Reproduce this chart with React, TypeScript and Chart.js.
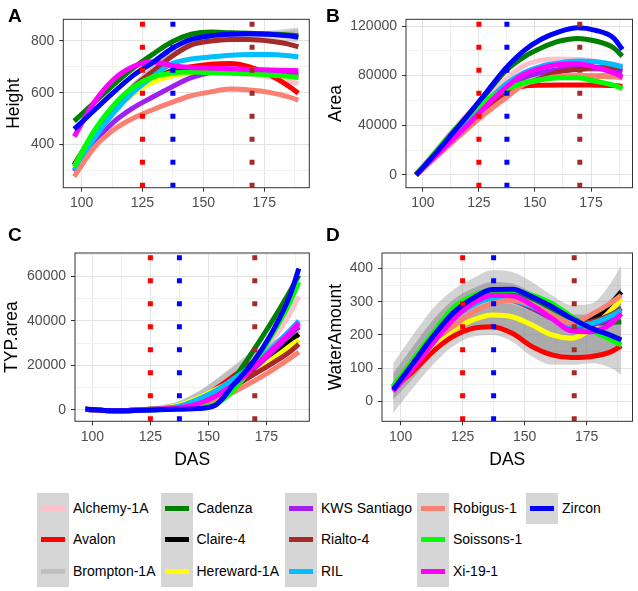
import React, { useEffect, useRef } from 'react';
import { Chart, registerables } from 'chart.js';

Chart.register(...registerables);

// ---------- data ----------
const DAS = [97, 105, 113, 121, 129, 137, 145, 153, 161, 169, 177, 185, 189];

const VARIETIES = [
  'Alchemy-1A', 'Avalon', 'Brompton-1A', 'Cadenza', 'Claire-4', 'Hereward-1A', 'KWS Santiago',
  'Rialto-4', 'RIL', 'Robigus-1', 'Soissons-1', 'Xi-19-1', 'Zircon',
];
const COLORS = [
  '#FFC0CB', '#FF0000', '#BEBEBE', '#008000', '#000000', '#FFFF00', '#A020F0',
  '#A52A2A', '#00BFFF', '#FA8072', '#00FF00', '#FF00FF', '#0000FF',
];

// Panel A: Height (one row per variety, same order as VARIETIES)
const HEIGHT = [
  [310, 430, 530, 600, 645, 670, 680, 685, 680, 670, 660, 645, 635],
  [320, 440, 535, 605, 650, 685, 700, 710, 713, 700, 670, 625, 598],
  [320, 440, 545, 625, 690, 745, 785, 805, 815, 820, 825, 832, 838],
  [490, 560, 629, 693, 747, 796, 826, 835, 832, 830, 827, 823, 820],
  [320, 440, 540, 610, 655, 678, 685, 685, 682, 678, 672, 665, 660],
  [305, 430, 525, 595, 640, 665, 675, 678, 678, 675, 670, 663, 658],
  [295, 405, 485, 540, 582, 622, 658, 678, 685, 683, 680, 675, 670],
  [320, 440, 540, 620, 680, 740, 785, 800, 806, 806, 800, 788, 777],
  [300, 420, 520, 600, 660, 712, 730, 738, 745, 748, 748, 743, 738],
  [275, 385, 455, 500, 533, 562, 588, 603, 614, 610, 601, 584, 571],
  [314, 450, 550, 620, 660, 676, 680, 677, 675, 673, 669, 663, 659],
  [430, 560, 650, 700, 720, 705, 697, 695, 693, 690, 688, 686, 685],
  [459, 530, 600, 665, 715, 770, 806, 820, 826, 828, 826, 820, 815],
];

// Panel B: Area
const AREA = [
  [1000, 17500, 35000, 51000, 65000, 77000, 88000, 92500, 93500, 93000, 91700, 89000, 87700],
  [0, 14000, 28000, 42000, 56000, 67400, 71500, 72300, 72500, 72500, 72300, 72000, 71500],
  [0, 15000, 30000, 45000, 59000, 70000, 77000, 81000, 84000, 85000, 85000, 84000, 83000],
  [0, 16000, 33000, 50000, 67000, 84000, 95000, 102500, 107900, 110000, 107900, 102500, 95700],
  [0, 14500, 29000, 43000, 56000, 67000, 73000, 77000, 79000, 80000, 80000, 79800, 79600],
  [500, 15000, 29500, 43000, 56000, 67000, 73500, 77500, 79500, 80000, 80000, 79500, 79000],
  [0, 14000, 28000, 42000, 56000, 69000, 78200, 82500, 85000, 86300, 86000, 85000, 83600],
  [0, 14000, 28000, 42000, 55000, 66000, 72800, 78200, 83100, 85000, 86300, 86800, 86300],
  [0, 15000, 30000, 45000, 60000, 73000, 82300, 87700, 90300, 91700, 91200, 89000, 86800],
  [0, 13000, 26000, 39000, 51000, 62000, 72800, 76900, 79600, 80000, 79600, 79000, 78200],
  [0, 17000, 34000, 49000, 61000, 69000, 74200, 76900, 78200, 78200, 75500, 72300, 69600],
  [0, 14000, 28000, 42000, 57000, 70500, 80900, 86300, 89000, 89500, 86800, 82300, 78800],
  [0, 16000, 33000, 50000, 68000, 86000, 100000, 109500, 115500, 118500, 116500, 110500, 101000],
];

// Panel C: TYP.area
const TYP_AREA = [
  [200, -300, -500, -100, 300, 1200, 3500, 7500, 13000, 20500, 30500, 43000, 51000],
  [200, -300, -400, 0, 600, 2000, 5500, 10500, 16500, 22000, 28000, 34000, 37000],
  [200, -300, -400, 0, 800, 2500, 6500, 12000, 18000, 24000, 29000, 33500, 35500],
  [200, -300, -500, -200, 100, 700, 1800, 5000, 14000, 26000, 39000, 53000, 60500],
  [200, -300, -400, 0, 400, 1300, 3800, 7500, 12000, 17500, 24000, 30500, 34000],
  [200, -300, -400, 0, 600, 2000, 5000, 9000, 13000, 17500, 22500, 28500, 31500],
  [200, -300, -400, -100, 300, 900, 2800, 6500, 11500, 18000, 25500, 33500, 37500],
  [200, -300, -400, 0, 400, 1300, 3500, 6800, 10500, 15500, 20500, 26000, 29500],
  [200, -300, -400, 0, 500, 1500, 4500, 8500, 14000, 20000, 27500, 35500, 40000],
  [200, -300, -400, -100, 300, 800, 2200, 4500, 8000, 12500, 17500, 23000, 26000],
  [200, -300, -500, -200, 100, 500, 1000, 2500, 9000, 20000, 33000, 48000, 57500],
  [200, -300, -400, -100, 300, 900, 2500, 6000, 11500, 18500, 26500, 34500, 39000],
  [300, -300, -500, -200, 0, 200, 500, 2000, 11500, 21000, 34000, 51000, 63500],
];

// Panel D: WaterAmount
const WATER = [
  [40, 110, 185, 248, 290, 310, 305, 280, 252, 230, 235, 255, 268],
  [40, 90, 150, 195, 220, 225, 205, 165, 140, 132, 135, 150, 167],
  [40, 110, 185, 248, 288, 305, 300, 278, 250, 228, 235, 255, 270],
  [45, 120, 200, 270, 310, 330, 330, 310, 280, 250, 235, 238, 240],
  [40, 110, 185, 250, 295, 315, 310, 285, 255, 230, 245, 295, 330],
  [40, 105, 170, 215, 245, 260, 255, 230, 200, 190, 220, 275, 310],
  [40, 110, 185, 250, 290, 312, 305, 280, 250, 225, 230, 250, 262],
  [40, 110, 185, 250, 292, 312, 306, 282, 254, 232, 240, 262, 280],
  [40, 110, 185, 250, 290, 310, 305, 285, 255, 230, 235, 258, 275],
  [40, 110, 180, 225, 268, 295, 305, 290, 260, 235, 262, 298, 320],
  [45, 125, 205, 280, 318, 335, 335, 320, 295, 255, 215, 185, 170],
  [30, 100, 175, 245, 295, 320, 318, 290, 250, 212, 210, 235, 265],
  [35, 115, 195, 265, 310, 337, 338, 315, 285, 250, 220, 198, 185],
];

// confidence-band envelopes
const A_BAND_X = [161, 169, 177, 185, 189];
const A_BAND_UPPER = [832, 836, 840, 848, 852];
const A_BAND_LOWER = [812, 812, 808, 800, 795];

const C_BAND_X = [129, 137, 145, 153, 161, 169, 177];
const C_BAND_UPPER = [900, 3000, 7500, 13500, 20000, 26500, 30000];
const C_BAND_LOWER = [100, 600, 2500, 6000, 11000, 17500, 24000];

const D_OUTER_UPPER = [115, 200, 280, 335, 370, 395, 390, 360, 320, 290, 295, 360, 410];
const D_OUTER_LOWER = [-35, 40, 110, 165, 195, 200, 180, 135, 110, 110, 115, 100, 80];
const D_INNER_UPPER = [85, 165, 245, 305, 340, 360, 355, 328, 295, 262, 262, 310, 345];
const D_INNER_LOWER = [5, 70, 140, 190, 215, 218, 200, 160, 135, 128, 140, 150, 160];

// vertical reference lines
const VLINE_X = [125, 137.5, 170];
const VLINE_COLORS = ['#FF0000', '#0000FF', '#A52A2A'];

// axis ticks
const X_GRID = [100, 112.5, 125, 137.5, 150, 162.5, 175, 187.5];
const X_MAJOR = [100, 125, 150, 175];
const X_MIN = 92.5;
const X_MAX = 193.5;

const FONT = "'Liberation Sans', Arial, Helvetica, sans-serif";

type Band = { x: number[]; upper: number[]; lower: number[]; color: string };
type PanelCfg = {
  letter: string;
  yTitle: string;
  xTitle: boolean;
  values: number[][];
  yMin: number;
  yMax: number;
  yGrid: number[];
  yMajor: number[];
  bands: Band[];
  left: number; top: number; width: number; height: number;
  plotLeft: number; plotRight: number; plotTop: number; plotBottom: number;
  yTitlePad: number;
  letterX: number; letterY: number;
};

const PANELS: PanelCfg[] = [
  {
    letter: 'A', yTitle: 'Height', xTitle: false, values: HEIGHT,
    yMin: 232, yMax: 884, yGrid: [300, 400, 500, 600, 700, 800], yMajor: [400, 600, 800],
    bands: [{ x: A_BAND_X, upper: A_BAND_UPPER, lower: A_BAND_LOWER, color: 'rgba(153,153,153,0.35)' }],
    left: 0, top: 0, width: 318, height: 230,
    plotLeft: 63.3, plotRight: 309.3, plotTop: 19.3, plotBottom: 187.7, yTitlePad: 3.5,
    letterX: 8, letterY: 5.6,
  },
  {
    letter: 'B', yTitle: 'Area', xTitle: false, values: AREA,
    yMin: -10300, yMax: 125400, yGrid: [0, 20000, 40000, 60000, 80000, 100000, 120000], yMajor: [0, 40000, 80000, 120000],
    bands: [],
    left: 318, top: 0, width: 320, height: 230,
    plotLeft: 88, plotRight: 314.5, plotTop: 19.3, plotBottom: 187.7, yTitlePad: 7.8,
    letterX: 326, letterY: 5.6,
  },
  {
    letter: 'C', yTitle: 'TYP.area', xTitle: true, values: TYP_AREA,
    yMin: -5200, yMax: 70500, yGrid: [0, 10000, 20000, 30000, 40000, 50000, 60000, 70000], yMajor: [0, 20000, 40000, 60000],
    bands: [{ x: C_BAND_X, upper: C_BAND_UPPER, lower: C_BAND_LOWER, color: 'rgba(153,153,153,0.4)' }],
    left: 0, top: 230, width: 318, height: 245,
    plotLeft: 75, plotRight: 309.3, plotTop: 23, plotBottom: 191.3, yTitlePad: 1.2,
    letterX: 8, letterY: 225.4,
  },
  {
    letter: 'D', yTitle: 'WaterAmount', xTitle: true, values: WATER,
    yMin: -60, yMax: 447, yGrid: [-50, 0, 50, 100, 150, 200, 250, 300, 350, 400], yMajor: [0, 100, 200, 300, 400],
    bands: [
      { x: DAS, upper: D_OUTER_UPPER, lower: D_OUTER_LOWER, color: 'rgba(150,150,150,0.42)' },
      { x: DAS, upper: D_INNER_UPPER, lower: D_INNER_LOWER, color: 'rgba(120,120,120,0.5)' },
    ],
    left: 318, top: 230, width: 320, height: 245,
    plotLeft: 64, plotRight: 314.5, plotTop: 23, plotBottom: 191.3, yTitlePad: 7.8,
    letterX: 326, letterY: 225.4,
  },
];

const overlayPlugin = {
  id: 'overlay',
  afterDatasetsDraw(chart: any) {
    const { ctx, chartArea: a, scales } = chart;
    const x = scales.x;
    ctx.save();
    ctx.beginPath();
    ctx.rect(a.left, a.top, a.right - a.left, a.bottom - a.top);
    ctx.clip();
    VLINE_X.forEach((v, i) => {
      const px = x.getPixelForValue(v);
      ctx.strokeStyle = VLINE_COLORS[i];
      ctx.lineWidth = 5;
      ctx.lineCap = 'butt';
      ctx.setLineDash([5, 18]);
      ctx.beginPath();
      ctx.moveTo(px, a.bottom);
      ctx.lineTo(px, a.top);
      ctx.stroke();
    });
    ctx.restore();
  },
  afterDraw(chart: any) {
    const { ctx, chartArea: a } = chart;
    ctx.save();
    ctx.strokeStyle = '#333333';
    ctx.lineWidth = 1;
    ctx.setLineDash([]);
    ctx.strokeRect(a.left, a.top, a.right - a.left, a.bottom - a.top);
    ctx.restore();
  },
};

function Panel({ p }: { p: PanelCfg }) {
  const ref = useRef<HTMLCanvasElement>(null);
  useEffect(() => {
    if (!ref.current) return;
    const datasets: any[] = [];
    VARIETIES.forEach((name, i) => {
      datasets.push({
        label: name,
        data: DAS.map((x, j) => ({ x, y: p.values[i][j] })),
        borderColor: COLORS[i],
        backgroundColor: COLORS[i],
        borderWidth: 5,
        pointRadius: 0,
        cubicInterpolationMode: 'monotone',
        borderCapStyle: 'butt',
        borderJoinStyle: 'round',
        fill: false,
        order: 20 - i,
      });
    });
    p.bands.forEach((b) => {
      const idx = datasets.length;
      datasets.push({
        data: b.x.map((x, j) => ({ x, y: b.upper[j] })),
        borderWidth: 0, borderColor: 'rgba(0,0,0,0)', pointRadius: 0,
        cubicInterpolationMode: 'monotone', fill: idx + 1, backgroundColor: b.color, order: 100,
      });
      datasets.push({
        data: b.x.map((x, j) => ({ x, y: b.lower[j] })),
        borderWidth: 0, borderColor: 'rgba(0,0,0,0)', pointRadius: 0,
        cubicInterpolationMode: 'monotone', fill: false, order: 100,
      });
    });

    const xAxisH = p.height - p.plotBottom;
    const chart = new Chart(ref.current, {
      type: 'line',
      data: { datasets },
      options: {
        responsive: false,
        animation: false,
        events: [],
        layout: { padding: { left: 0, top: p.plotTop, right: p.width - p.plotRight, bottom: 0 } },
        plugins: { legend: { display: false }, tooltip: { enabled: false } },
        scales: {
          x: {
            type: 'linear',
            min: X_MIN,
            max: X_MAX,
            afterBuildTicks: (s: any) => { s.ticks = X_GRID.map((v) => ({ value: v })); },
            afterFit: (s: any) => { s.height = xAxisH; },
            border: { display: false },
            grid: {
              color: (c: any) => (X_MAJOR.includes(c.tick?.value) ? '#e3e3e3' : '#f1f1f1'),
              lineWidth: 1,
              tickLength: 4,
              tickColor: (c: any) => (X_MAJOR.includes(c.tick?.value) ? '#333333' : 'rgba(0,0,0,0)'),
            },
            ticks: {
              autoSkip: false, maxRotation: 0, minRotation: 0, padding: 3,
              color: '#4d4d4d', font: { family: FONT, size: 14 },
              callback: (v: any) => (X_MAJOR.includes(v) ? String(v) : ''),
            },
            title: {
              display: p.xTitle, text: 'DAS', color: '#000000',
              font: { family: FONT, size: 17.5 }, padding: { top: 0, bottom: 4.5 },
            },
          },
          y: {
            type: 'linear',
            min: p.yMin,
            max: p.yMax,
            afterBuildTicks: (s: any) => { s.ticks = p.yGrid.map((v) => ({ value: v })); },
            afterFit: (s: any) => { s.width = p.plotLeft; },
            border: { display: false },
            grid: {
              color: (c: any) => (p.yMajor.includes(c.tick?.value) ? '#e3e3e3' : '#f1f1f1'),
              lineWidth: 1,
              tickLength: 4,
              tickColor: (c: any) => (p.yMajor.includes(c.tick?.value) ? '#333333' : 'rgba(0,0,0,0)'),
            },
            ticks: {
              autoSkip: false, padding: 5,
              color: '#4d4d4d', font: { family: FONT, size: 14 },
              callback: (v: any) => (p.yMajor.includes(v) ? String(v) : ''),
            },
            title: {
              display: true, text: p.yTitle, color: '#000000',
              font: { family: FONT, size: 17.5 }, padding: { top: p.yTitlePad, bottom: 0 },
            },
          },
        },
      } as any,
      plugins: [overlayPlugin],
    });
    return () => chart.destroy();
  }, [p]);

  return (
    <>
      <canvas
        ref={ref}
        width={p.width}
        height={p.height}
        style={{ position: 'absolute', left: p.left, top: p.top, width: p.width, height: p.height }}
      />
      <div
        style={{
          position: 'absolute', left: p.letterX, top: p.letterY, fontFamily: FONT,
          fontWeight: 'bold', fontSize: 19, lineHeight: '19px', color: '#000',
        }}
      >
        {p.letter}
      </div>
    </>
  );
}

const KEY_LEFT = [37, 160.5, 285, 417, 526];
const LEGEND_TOP = 493;
const ROW_H = 31.3;

function Legend() {
  const cols = Math.ceil(VARIETIES.length / 3);
  const items: any[] = [];
  for (let c = 0; c < cols; c++) {
    const n = Math.min(3, VARIETIES.length - c * 3);
    items.push(
      <div key={'bg' + c} style={{
        position: 'absolute', left: KEY_LEFT[c], top: LEGEND_TOP, width: 32, height: n * ROW_H,
        background: '#d6d6d6',
      }} />
    );
  }
  VARIETIES.forEach((name, i) => {
    const c = Math.floor(i / 3);
    const r = i % 3;
    const top = LEGEND_TOP + r * ROW_H;
    items.push(
      <div key={'k' + i} style={{
        position: 'absolute', left: KEY_LEFT[c] + 4, top: top + ROW_H / 2 - 2.5, width: 24, height: 5,
        background: COLORS[i],
      }} />
    );
    items.push(
      <div key={'t' + i} style={{
        position: 'absolute', left: KEY_LEFT[c] + 36, top, height: ROW_H, lineHeight: ROW_H + 'px',
        fontFamily: FONT, fontSize: 14, color: '#000', whiteSpace: 'nowrap',
      }}>{name}</div>
    );
  });
  return <>{items}</>;
}

export default function App() {
  return (
    <div style={{ position: 'absolute', left: 0, top: 0, width: 638, height: 591, background: '#fff', overflow: 'hidden' }}>
      {PANELS.map((p) => <Panel key={p.letter} p={p} />)}
      <Legend />
    </div>
  );
}
